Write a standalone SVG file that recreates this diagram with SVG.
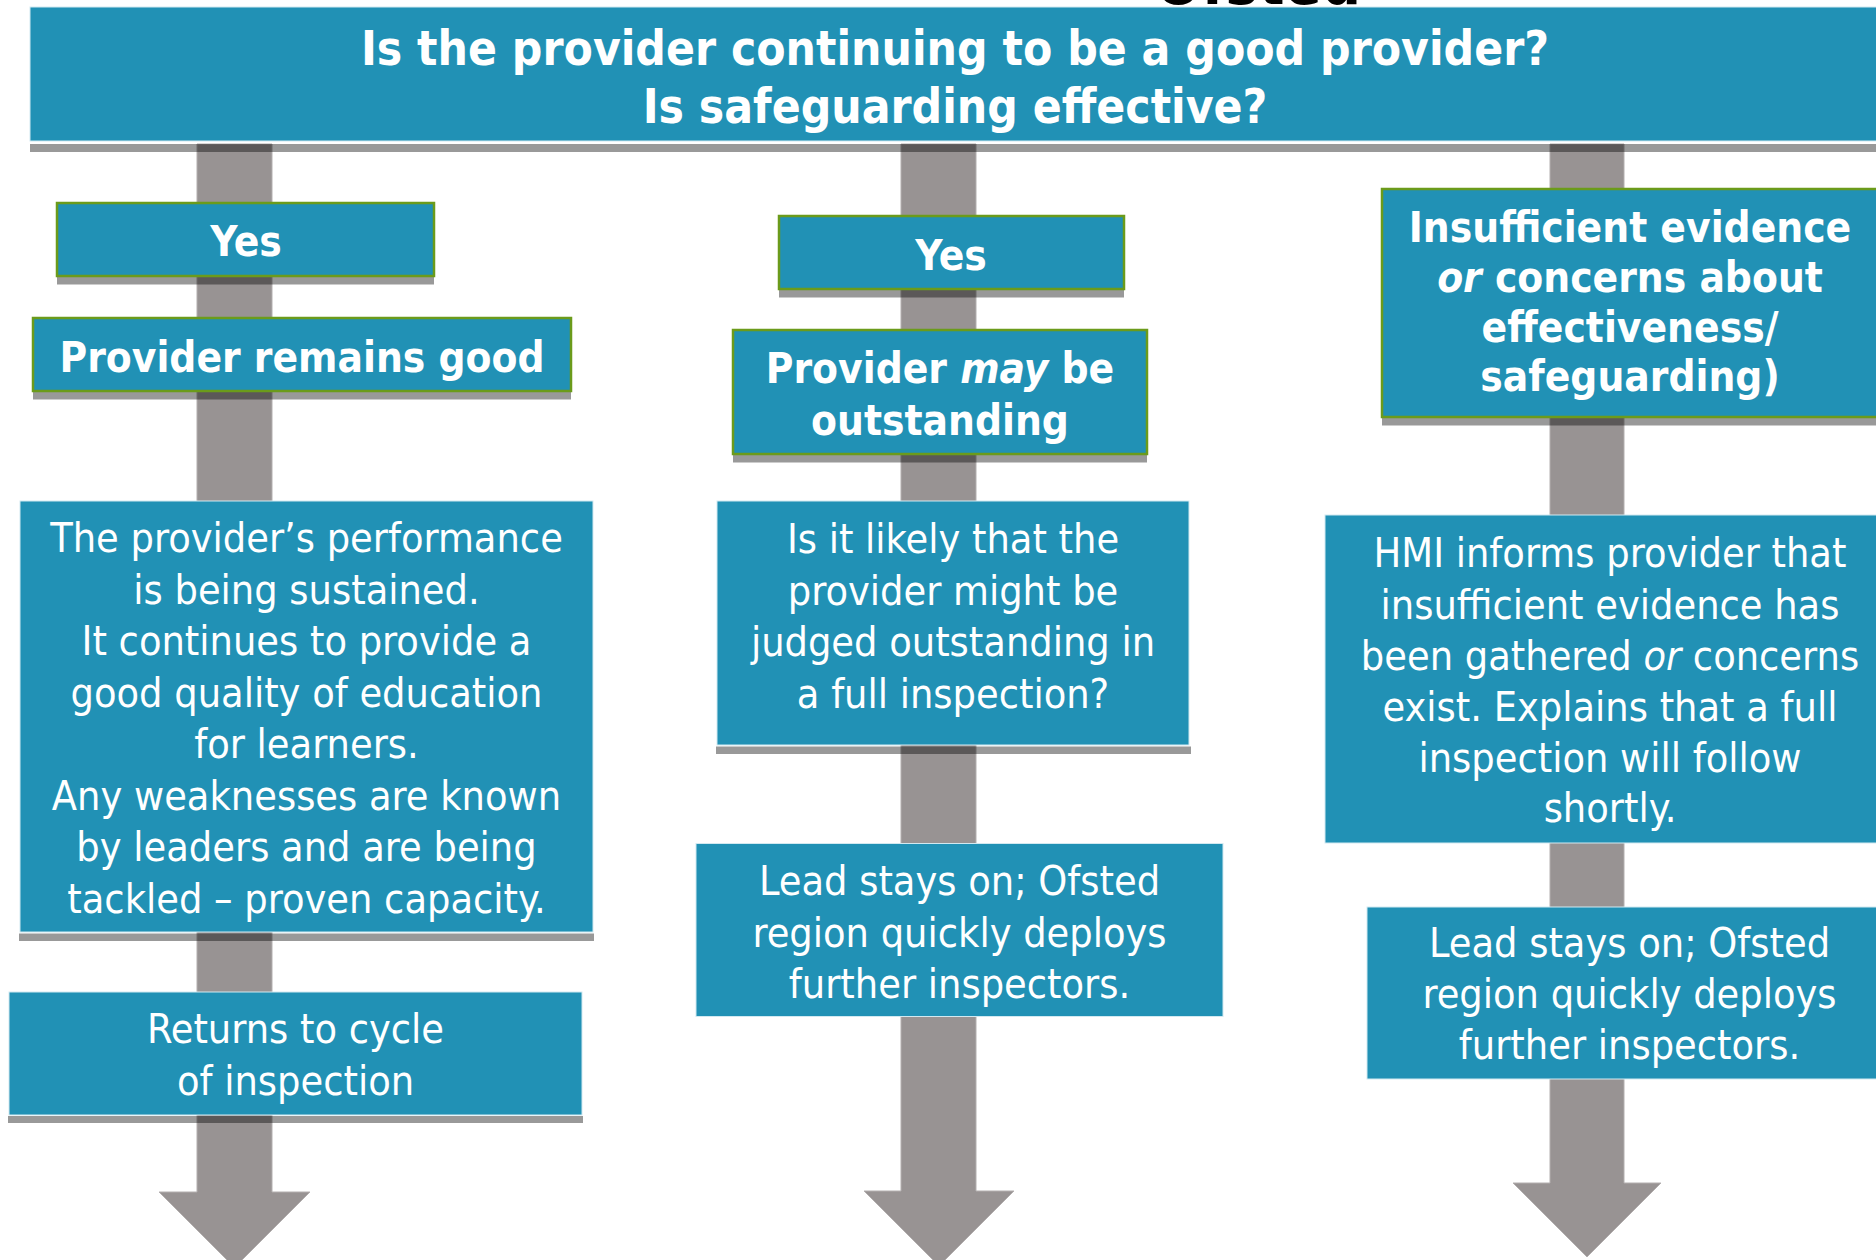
<svg xmlns="http://www.w3.org/2000/svg" width="1876" height="1260" viewBox="0 0 1876 1260">
<style>
.box{fill:#2191b5;stroke:#d2e9f1;stroke-width:1}
.hdr{fill:#2191b5;stroke:#6b9b1b;stroke-width:2.5}
.sh{fill:#000;fill-opacity:0.4}
.bar{fill:#989393;stroke:#b3afaf;stroke-width:1}
.t{font-family:"DejaVu Sans Condensed","DejaVu Sans",sans-serif;font-stretch:condensed;fill:#fff;text-anchor:middle;font-size:41px}
.b{font-weight:bold;font-size:42px}
.i{font-style:italic}
</style>
<rect width="1876" height="1260" fill="#fff"/>
<text x="1258" y="4" style="font-family:'DejaVu Sans Condensed','DejaVu Sans',sans-serif;font-stretch:condensed;font-weight:bold;font-size:61px;text-anchor:middle;fill:#000">Ofsted</text>
<g id="connectors">
<polygon class="bar" points="197,144 272,144 272,1192 310,1192 234.5,1267.5 159,1192 197,1192"/>
<polygon class="bar" points="901,144 976,144 976,1191 1014,1191 939,1266 864,1191 901,1191"/>
<polygon class="bar" points="1550,144 1624,144 1624,1183 1661,1183 1587,1257 1513,1183 1550,1183"/>
</g>
<g id="question">
<rect class="sh" x="30" y="144" width="1846" height="8"/>
<rect class="box" x="30" y="7" width="1870" height="134"/>
<text class="t b" style="font-size:47.5px" x="955" y="65">Is the provider continuing to be a good provider?</text>
<text class="t b" style="font-size:47.5px" x="955" y="123">Is safeguarding effective?</text>
</g>
<g id="yes-left">
<rect class="sh" x="57" y="277" width="377" height="7.5"/>
<rect class="hdr" x="57" y="203" width="377" height="73"/>
<text class="t b" x="246" y="256">Yes</text>
</g>
<g id="remains-good">
<rect class="sh" x="33" y="392" width="538" height="7.5"/>
<rect class="hdr" x="33" y="318" width="538" height="73"/>
<text class="t b" x="302" y="372">Provider remains good</text>
</g>
<g id="sustained">
<rect class="sh" x="19" y="933.5" width="575" height="7.5"/>
<rect class="box" x="20" y="501" width="573" height="431"/>
<text class="t" x="306.5" y="552">The provider’s performance</text>
<text class="t" x="306.5" y="603.5">is being sustained.</text>
<text class="t" x="306.5" y="655">It continues to provide a</text>
<text class="t" x="306.5" y="706.5">good quality of education</text>
<text class="t" x="306.5" y="758">for learners.</text>
<text class="t" x="306.5" y="809.5">Any weaknesses are known</text>
<text class="t" x="306.5" y="861">by leaders and are being</text>
<text class="t" x="306.5" y="912.5">tackled – proven capacity.</text>
</g>
<g id="returns">
<rect class="sh" x="8" y="1116" width="575" height="7"/>
<rect class="box" x="9" y="992" width="573" height="123"/>
<text class="t" x="295.5" y="1043">Returns to cycle</text>
<text class="t" x="295.5" y="1095">of inspection</text>
</g>
<g id="yes-middle">
<rect class="sh" x="779" y="290" width="345" height="7.5"/>
<rect class="hdr" x="779" y="216" width="345" height="73"/>
<text class="t b" x="951" y="270">Yes</text>
</g>
<g id="may-be-outstanding">
<rect class="sh" x="733" y="455" width="414" height="7.5"/>
<rect class="hdr" x="733" y="330" width="414" height="124"/>
<text class="t b" x="940" y="383">Provider <tspan class="i">may</tspan> be</text>
<text class="t b" x="940" y="435">outstanding</text>
</g>
<g id="likely-outstanding">
<rect class="sh" x="716" y="746.5" width="475" height="7.5"/>
<rect class="box" x="717" y="501" width="472" height="244"/>
<text class="t" x="953" y="553">Is it likely that the</text>
<text class="t" x="953" y="604.5">provider might be</text>
<text class="t" x="953" y="656">judged outstanding in</text>
<text class="t" x="953" y="707.5">a full inspection?</text>
</g>
<g id="lead-middle">
<rect class="box" x="696" y="843.5" width="527" height="173"/>
<text class="t" x="959.5" y="895">Lead stays on; Ofsted</text>
<text class="t" x="959.5" y="946.5">region quickly deploys</text>
<text class="t" x="959.5" y="998">further inspectors.</text>
</g>
<g id="insufficient">
<rect class="sh" x="1382" y="418" width="500" height="7.5"/>
<rect class="hdr" x="1382" y="189" width="500" height="228"/>
<text class="t b" x="1630" y="242">Insufficient evidence</text>
<text class="t b" x="1630" y="292"><tspan class="i">or</tspan> concerns about</text>
<text class="t b" x="1630" y="342">effectiveness/</text>
<text class="t b" x="1630" y="391">safeguarding)</text>
</g>
<g id="hmi-informs">
<rect class="box" x="1325" y="515" width="570" height="328"/>
<text class="t" x="1610" y="567">HMI informs provider that</text>
<text class="t" x="1610" y="618.5">insufficient evidence has</text>
<text class="t" x="1610" y="669.5">been gathered <tspan class="i">or</tspan> concerns</text>
<text class="t" x="1610" y="720.5">exist. Explains that a full</text>
<text class="t" x="1610" y="771.5">inspection will follow</text>
<text class="t" x="1610" y="822">shortly.</text>
</g>
<g id="lead-right">
<rect class="box" x="1367" y="907" width="525" height="172"/>
<text class="t" x="1629.5" y="957">Lead stays on; Ofsted</text>
<text class="t" x="1629.5" y="1008">region quickly deploys</text>
<text class="t" x="1629.5" y="1059">further inspectors.</text>
</g>
</svg>
